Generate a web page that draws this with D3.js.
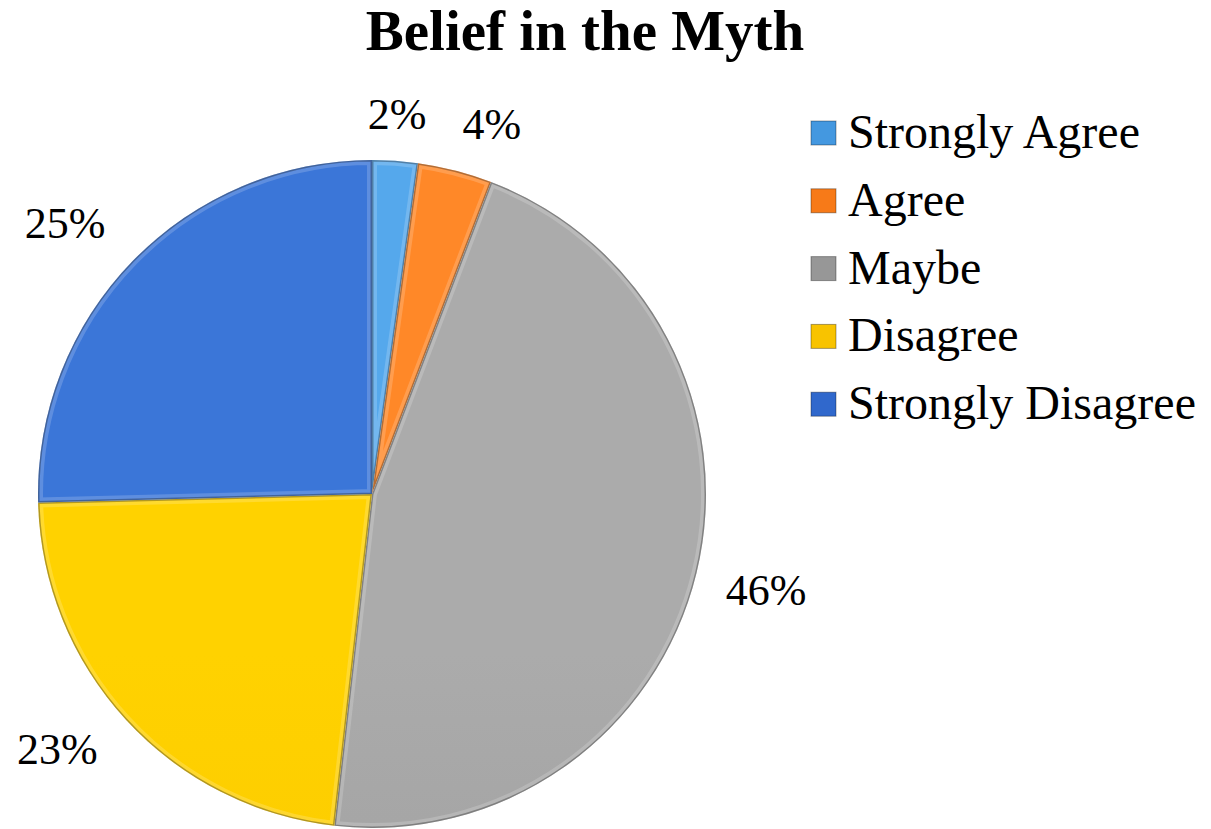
<!DOCTYPE html>
<html>
<head>
<meta charset="utf-8">
<script src="https://cdn.jsdelivr.net/npm/d3@7"></script>
<style>
  body { margin: 0; background: #fff; }
  text { font-family: "Liberation Serif", "Times New Roman", serif; fill: #000; }
</style>
</head>
<body>
<div id="chart"></div>
<script>
var categories = ['Strongly Agree', 'Agree', 'Maybe', 'Disagree', 'Strongly Disagree'];
var values = [2.2, 3.6, 46.0, 22.8, 25.4];
var labels = ['2%', '4%', '46%', '23%', '25%'];
var colors = ['#4498e0', '#f77a18', '#979797', '#f8c300', '#3068cc'];
var lightColors = ['#55a8ec', '#ff8828', '#ababab', '#ffd200', '#3b76d8'];

var width = 1211, height = 829;
var cx = 372, cy = 494, R = 334;

var svg = d3.select('#chart').append('svg')
    .attr('width', width)
    .attr('height', height);

var defs = svg.append('defs');
colors.forEach(function(c, i) {
  var g = defs.append('linearGradient')
      .attr('id', 'grad' + i)
      .attr('gradientUnits', 'userSpaceOnUse')
      .attr('x1', 0).attr('y1', cy - R).attr('x2', 0).attr('y2', cy + R);
  g.append('stop').attr('offset', '0%').attr('stop-color', lightColors[i]);
  g.append('stop').attr('offset', '100%').attr('stop-color', c);
});

svg.append('text')
   .attr('x', 585)
   .attr('y', 50)
   .attr('text-anchor', 'middle')
   .style('font-size', '57px')
   .style('font-weight', 'bold')
   .text('Belief in the Myth');

var pie = d3.pie().sort(null).value(function(d) { return d; });
var arcs = pie(values);
var arc = d3.arc().innerRadius(0).outerRadius(R);
var labelArc = d3.arc().innerRadius(R + 30).outerRadius(R + 30);

var g = svg.append('g').attr('transform', 'translate(' + cx + ',' + cy + ')');

arcs.forEach(function(a, i) {
  defs.append('clipPath').attr('id', 'clip' + i)
      .append('path').attr('d', arc(a));
});

var slices = g.selectAll('g.slice')
   .data(arcs)
   .enter()
   .append('g')
   .attr('class', 'slice');

slices.append('path')
   .attr('d', arc)
   .style('fill', function(d, i) { return 'url(#grad' + i + ')'; });

// bevel: light inner rim and dark edge
slices.append('path')
   .attr('d', arc)
   .attr('clip-path', function(d, i) { return 'url(#clip' + i + ')'; })
   .style('fill', 'none')
   .style('stroke', '#fff')
   .style('stroke-opacity', 0.18)
   .style('stroke-width', 10);
slices.append('path')
   .attr('d', arc)
   .attr('clip-path', function(d, i) { return 'url(#clip' + i + ')'; })
   .style('fill', 'none')
   .style('stroke', '#000')
   .style('stroke-opacity', 0.3)
   .style('stroke-width', 3);

// data labels, box corner placed at the anchor point like Excel does
g.selectAll('text.lbl')
   .data(arcs)
   .enter()
   .append('text')
   .attr('class', 'lbl')
   .style('font-size', '44px')
   .each(function(d, i) {
     var p = labelArc.centroid(d);
     var mid = (d.startAngle + d.endAngle) / 2;
     var s = Math.sin(mid), c = Math.cos(mid);
     var anchor = s > 0.2 ? 'start' : (s < -0.2 ? 'end' : 'middle');
     var dy = c > 0.2 ? '-0.05em' : (c < -0.2 ? '0.56em' : '0.33em');
     var dx = s < -0.2 ? -6 : 0;
     d3.select(this)
       .attr('x', p[0] + dx).attr('y', p[1])
       .attr('text-anchor', anchor)
       .attr('dy', dy)
       .text(labels[i]);
   });

var legend = svg.append('g').attr('transform', 'translate(811,133)');
var rows = legend.selectAll('g')
   .data(categories)
   .enter()
   .append('g')
   .attr('transform', function(d, i) { return 'translate(0,' + (i * 67.8) + ')'; });
rows.append('rect')
   .attr('x', 0).attr('y', -12)
   .attr('width', 25).attr('height', 24)
   .style('fill', function(d, i) { return colors[i]; })
   .style('stroke', 'rgba(0,0,0,0.35)')
   .style('stroke-width', 1);
rows.append('text')
   .attr('x', 37)
   .attr('y', 15)
   .style('font-size', '48px')
   .text(function(d) { return d; });
</script>
</body>
</html>
